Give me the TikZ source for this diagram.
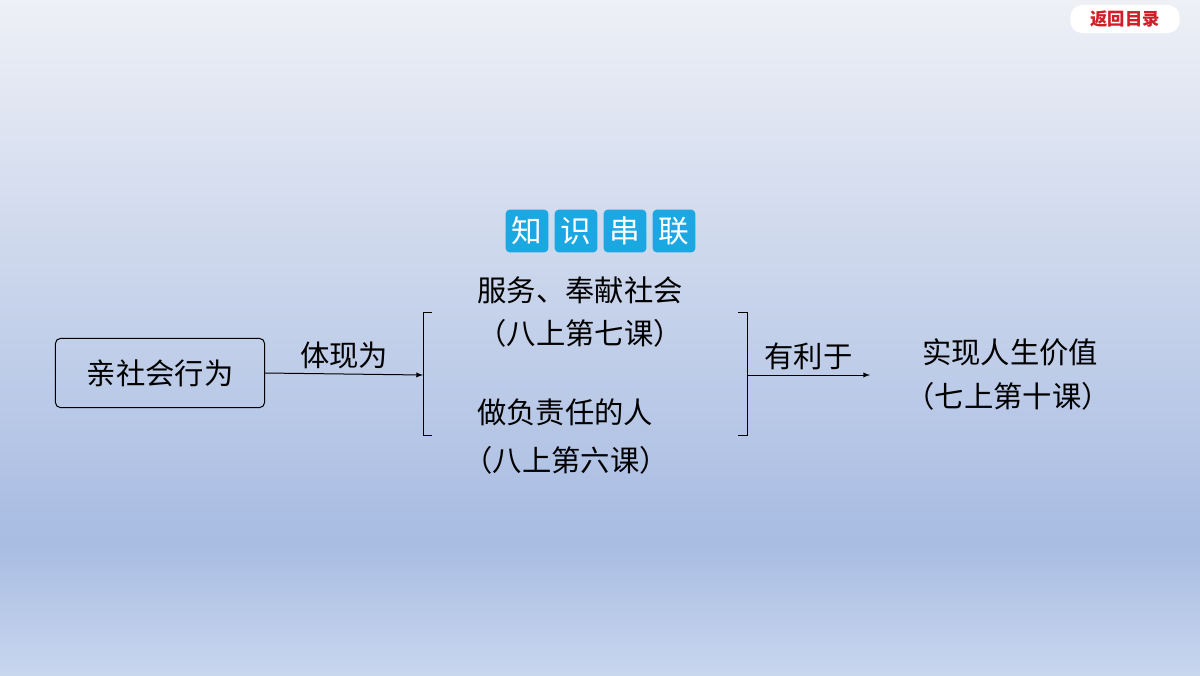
\documentclass[tikz,border=0pt]{standalone}
\usepackage{fontspec}
\newfontfamily\cjk{Noto Sans CJK SC}
\usetikzlibrary{positioning}
\definecolor{bgtop}{RGB}{238,240,246}
\definecolor{bgmid}{RGB}{168,188,226}
\definecolor{bgbot}{RGB}{200,214,238}
\definecolor{titleblue}{RGB}{27,168,226}
\definecolor{btnred}{RGB}{210,30,40}
\tikzset{every picture/.style={line width=0.75pt}}
\tikzset{
  txt/.style={font=\cjk\fontsize{22}{24}\selectfont, inner sep=0.75pt},
  tbox/.style={fill=titleblue, rounded corners=3pt, minimum size=32pt, inner sep=0pt, text=white, font=\cjk\fontsize{23}{24}\selectfont}
}
\begin{document}
\begin{tikzpicture}[x=0.75pt,y=0.75pt,yscale=-1,xscale=1]
% background
\shade[top color=bgtop, bottom color=bgmid] (0,0) rectangle (1200,540);
\shade[top color=bgmid, bottom color=bgbot] (0,540) rectangle (1200,675);
\useasboundingbox (0,0) rectangle (1200,675);

% return button
\node [fill=white, rounded corners=9pt, minimum width=82pt, minimum height=21pt, text=btnred, font=\cjk\bfseries\fontsize{13}{14}\selectfont] (btn) at (1125,19) {返回目录};

% title
\foreach \c [count=\i] in {知,识,串,联}
  \node [tbox] (t\i) at ({478+\i*49},231) {\c};

% main box
\node [draw, rounded corners=4pt, minimum width=157pt, minimum height=52pt, txt] (start) at (160,373) {亲社会行为};

% brackets
\coordinate (lb) at (423,375);
\coordinate (rb) at (747,375);
\draw (432,312) -- (423,312) -- (423,435) -- (432,435);
\draw (738,312) -- (747,312) -- (747,435) -- (738,435);

% middle texts
\node [txt] (a1) at (580,290) {服务、奉献社会};
\node [txt] (a2) at (580,333) {（八上第七课）};
\node [txt] (b1) at (565,412) {做负责任的人};
\node [txt] (b2) at (566,460) {（八上第六课）};

% right texts
\node [txt] (c1) at (1010,352) {实现人生价值};
\node [txt] (c2) at (1008,396) {（七上第十课）};
\coordinate (cend) at (870,375);

% arrows
\draw [-latex] (start.east) -- node [above=3pt, txt] {体现为} (lb);
\draw [-latex] (rb) -- node [above=3pt, txt] {有利于} (cend);
\end{tikzpicture}
\end{document}
